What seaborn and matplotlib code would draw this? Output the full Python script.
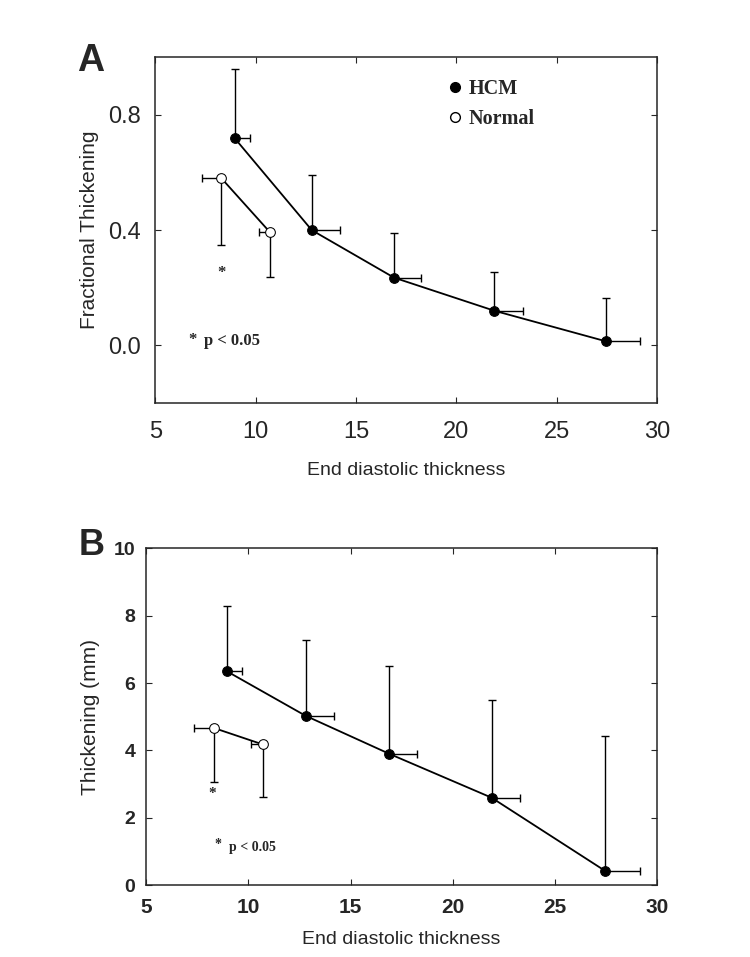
import numpy as np
import pandas as pd
import matplotlib
matplotlib.use("Agg")
import matplotlib.pyplot as plt
from matplotlib.lines import Line2D
import seaborn as sns

# ---- data ----
hcm_x = [8.95, 12.8, 16.9, 21.9, 27.45]
hcm_x_err = [0.75, 1.4, 1.35, 1.4, 1.7]

# panel A: fractional thickening
hcm_ft = [0.72, 0.40, 0.235, 0.12, 0.014]
hcm_ft_err = [0.24, 0.19, 0.155, 0.135, 0.15]
norm_x = [8.3, 10.7]
norm_x_err = [0.95, 0.55]
norm_ft = [0.58, 0.394]
norm_ft_err = [0.23, 0.155]

# panel B: thickening (mm)
hcm_th = [6.35, 5.03, 3.9, 2.6, 0.43]
hcm_th_err = [1.95, 2.25, 2.6, 2.9, 4.0]
norm_th = [4.67, 4.18]
norm_th_err = [1.62, 1.57]

sns.set_style("ticks")
plt.rcParams['font.family'] = ['Liberation Sans', 'DejaVu Sans']

fig = plt.figure(figsize=(7.5, 9.57), dpi=100)
axA = fig.add_axes([0.207, 0.579, 0.669, 0.361])
axB = fig.add_axes([0.195, 0.075, 0.681, 0.352])

bold_serif = {'family': 'Liberation Serif', 'weight': 'bold'}


def draw_panel(ax, hy, herr, ny, nerr):
    hcm = pd.DataFrame({'x': hcm_x, 'y': hy})
    nor = pd.DataFrame({'x': norm_x, 'y': ny})
    # one sided error bars: HCM up/right, Normal down/left
    ax.errorbar(hcm_x, hy, xerr=[np.zeros(len(hy)), hcm_x_err],
                yerr=[np.zeros(len(hy)), herr], fmt='none', ecolor='black',
                elinewidth=1, capsize=3, capthick=1)
    ax.errorbar(norm_x, ny, xerr=[norm_x_err, np.zeros(len(ny))],
                yerr=[nerr, np.zeros(len(ny))], fmt='none', ecolor='black',
                elinewidth=1, capsize=3, capthick=1)
    sns.lineplot(data=hcm, x='x', y='y', ax=ax, color='black', lw=1.3,
                 marker='o', markersize=7, markerfacecolor='black',
                 markeredgecolor='black')
    sns.lineplot(data=nor, x='x', y='y', ax=ax, color='black', lw=1.3,
                 marker='o', markersize=7, markerfacecolor='white',
                 markeredgecolor='black')
    ax.set_xlim(5, 30)
    ax.set_xticks([5, 10, 15, 20, 25, 30])
    ax.tick_params(direction='in', top=True, right=True, length=4)
    for s in ax.spines.values():
        s.set_linewidth(1.1)


# ---- panel A ----
draw_panel(axA, hcm_ft, hcm_ft_err, norm_ft, norm_ft_err)
axA.set_ylim(-0.2, 1.0)
axA.set_yticks([0.0, 0.4, 0.8])
axA.set_yticklabels(['0.0', '0.4', '0.8'])
axA.tick_params(axis='x', labelsize=17, pad=13)
axA.tick_params(axis='y', labelsize=17, pad=10)
axA.set_xlabel('End diastolic thickness', fontsize=14, labelpad=14)
axA.set_ylabel('Fractional Thickening', fontsize=15, labelpad=7)
axA.text(8.3, 0.25, '*', ha='center', va='center', fontsize=12, fontdict=bold_serif)
axA.text(6.85, 0.02, '*', ha='center', va='center', fontsize=12, fontdict=bold_serif)
axA.text(7.45, 0.014, 'p < 0.05', ha='left', va='center', fontsize=12, fontdict=bold_serif)
handles = [Line2D([], [], ls='none', marker='o', markersize=7, mfc='black', mec='black'),
           Line2D([], [], ls='none', marker='o', markersize=7, mfc='white', mec='black')]
axA.legend(handles, ['HCM', 'Normal'], loc='upper left',
           bbox_to_anchor=(0.538, 0.99), frameon=False, handletextpad=0.05,
           handlelength=1.2, labelspacing=0.5,
           prop={'family': 'Liberation Serif', 'weight': 'bold', 'size': 14.5})
fig.text(0.103, 0.926, 'A', fontsize=27, fontweight='bold')

# ---- panel B ----
draw_panel(axB, hcm_th, hcm_th_err, norm_th, norm_th_err)
axB.set_ylim(0, 10)
axB.set_yticks([0, 2, 4, 6, 8, 10])
axB.tick_params(axis='x', labelsize=15, pad=9)
axB.tick_params(axis='y', labelsize=14, pad=8)
for lab in axB.get_xticklabels() + axB.get_yticklabels():
    lab.set_fontweight('bold')
axB.set_xlabel('End diastolic thickness', fontsize=14, labelpad=10)
axB.set_ylabel('Thickening (mm)', fontsize=15, labelpad=10)
axB.text(8.25, 2.72, '*', ha='center', va='center', fontsize=11, fontdict=bold_serif)
axB.text(8.5, 1.2, '*', ha='center', va='center', fontsize=10, fontdict=bold_serif)
axB.text(9.05, 1.12, 'p < 0.05', ha='left', va='center', fontsize=10, fontdict=bold_serif)
fig.text(0.105, 0.42, 'B', fontsize=26, fontweight='bold')

fig.savefig('out.png', dpi=100)
